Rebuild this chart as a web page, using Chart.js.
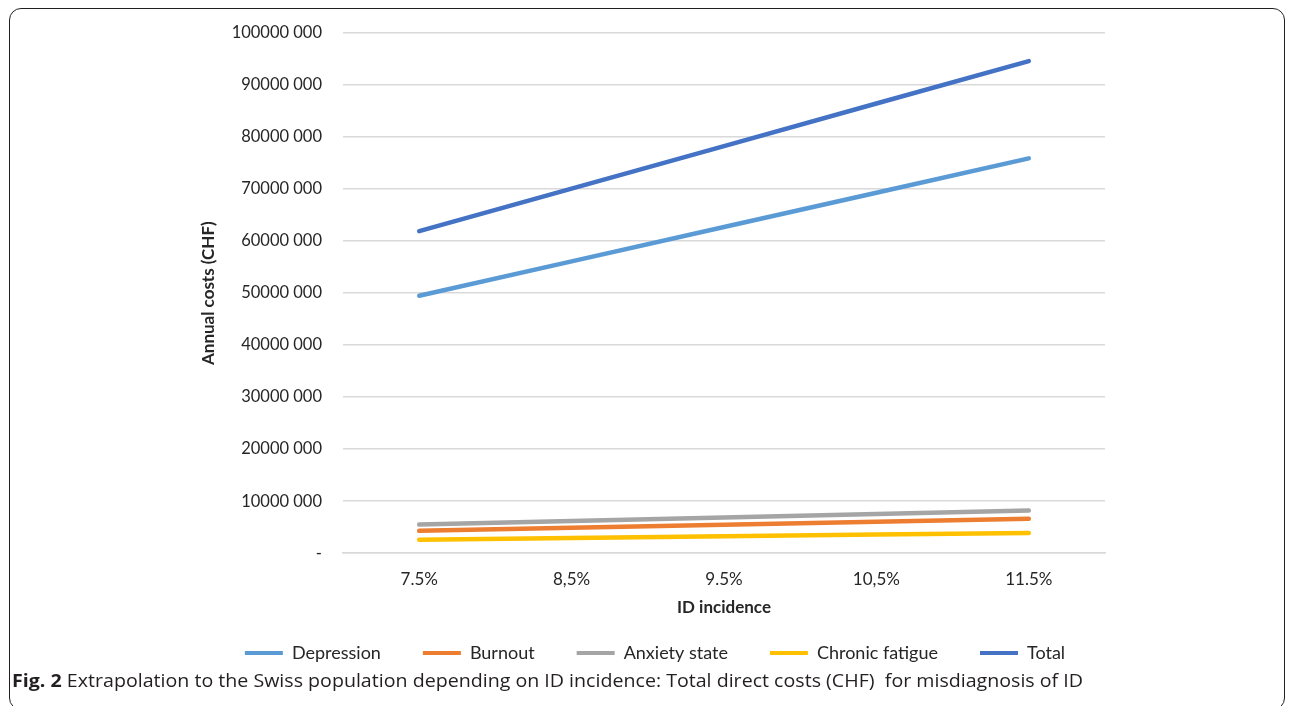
<!DOCTYPE html>
<html>
<head>
<meta charset="utf-8">
<script src="https://cdn.jsdelivr.net/npm/chart.js@4.4.1/dist/chart.umd.min.js"></script>
<style>
  html, body { margin: 0; padding: 0; background: #fff; overflow: hidden; }
  #wrap { position: relative; width: 1292px; height: 706px; }
  #frame {
    position: absolute; left: 9px; top: 8px; width: 1276px; height: 702px;
    border: 1.5px solid #231f20; border-radius: 12px; box-sizing: border-box;
  }
  #chart { position: absolute; left: 0; top: 0; }
  #caption {
    position: absolute; left: 12px; top: 668px; white-space: nowrap;
    font-family: "Open Sans", sans-serif; font-size: 18px; color: #231f20;
    transform-origin: 0 0;
  }
  #caption b { font-weight: 700; }
</style>
</head>
<body>
<div id="wrap">
  <div id="frame"></div>
  <canvas id="chart" width="1292" height="706"></canvas>
  <div id="caption"><b>Fig. 2</b> Extrapolation to the Swiss population depending on ID incidence: Total direct costs (CHF)&nbsp; for misdiagnosis of ID</div>
</div>
<script>
// ID incidence scenarios (x axis)
const categories = ['7.5%', '8,5%', '9.5%', '10,5%', '11.5%'];

// Annual direct costs in CHF per misdiagnosis
const depression     = [49500000, 56100000, 62700000, 69300000, 75900000];
const burnout        = [4300000, 4880000, 5450000, 6030000, 6600000];
const anxietyState   = [5500000, 6180000, 6850000, 7530000, 8200000];
const chronicFatigue = [2600000, 2930000, 3250000, 3580000, 3900000];
const total          = [61900000, 70090000, 78250000, 86440000, 94600000];

// Y axis tick labels, from 0 up to 100 million in steps of 10 million
const yTickLabels = ['-', '10000 000', '20000 000', '30000 000', '40000 000', '50000 000',
                     '60000 000', '70000 000', '80000 000', '90000 000', '100000 000'];

const seriesNames = ['Depression', 'Burnout', 'Anxiety state', 'Chronic fatigue', 'Total'];
const seriesColors = ['#5B9BD5', '#ED7D31', '#A5A5A5', '#FFC000', '#4472C4'];
const seriesData = [depression, burnout, anxietyState, chronicFatigue, total];

const FONT = 'Lato, "Open Sans", sans-serif';
const TEXT = '#262626';

const datasets = seriesNames.map((name, i) => ({
  label: name,
  data: seriesData[i],
  borderColor: seriesColors[i],
  backgroundColor: seriesColors[i],
  borderWidth: 4.5,
  borderCapStyle: 'round',
  borderJoinStyle: 'round',
  pointRadius: 0,
  tension: 0,
  order: seriesNames.length - i
}));

new Chart(document.getElementById('chart'), {
  type: 'line',
  data: { labels: categories, datasets },
  options: {
    responsive: false,
    animation: false,
    layout: { padding: { left: 18, right: 0, top: 33, bottom: 34 } },
    plugins: {
      tooltip: { enabled: false },
      legend: {
        position: 'bottom',
        labels: {
          font: { family: FONT, size: 18 },
          color: TEXT,
          boxWidth: 38,
          boxHeight: 4,
          padding: 42,
          generateLabels(chart) {
            return chart.data.datasets.map((ds, i) => ({
              text: ds.label,
              fillStyle: ds.borderColor,
              strokeStyle: ds.borderColor,
              lineWidth: 0,
              fontColor: TEXT,
              hidden: false,
              datasetIndex: i
            }));
          }
        }
      }
    },
    scales: {
      x: {
        grid: { display: false, drawTicks: false },
        border: { display: true, color: '#d9d9d9', width: 1.5 },
        offset: true,
        ticks: { font: { family: FONT, size: 17 }, color: TEXT, padding: 16 },
        title: {
          display: true, text: 'ID incidence', color: TEXT,
          font: { family: FONT, size: 17, weight: 'bold' },
          padding: { top: -8, bottom: -16 }
        }
      },
      y: {
        position: 'left',
        min: 0, max: 100000000,
        grid: { color: '#d9d9d9', lineWidth: 1.5, drawTicks: false },
        border: { display: false },
        ticks: {
          stepSize: 10000000,
          font: { family: FONT, size: 16.5 }, color: TEXT, padding: 21,
          callback: (v) => yTickLabels[Math.round(v / 10000000)]
        },
        title: {
          display: true, text: 'Annual costs (CHF)', color: TEXT,
          font: { family: FONT, size: 17, weight: 'bold' },
          padding: { top: 4, bottom: 4 }
        },
        afterFit(scale) { scale.width = 149; }
      },
      leftSpace: {
        type: 'linear', position: 'left', weight: 5,
        grid: { display: false, drawTicks: false },
        border: { display: false },
        ticks: { display: false },
        afterFit(scale) { scale.width = 176; }
      },
      rightSpace: {
        type: 'linear', position: 'right',
        grid: { display: false, drawTicks: false },
        border: { display: false },
        ticks: { display: false },
        afterFit(scale) { scale.width = 187; }
      }
    }
  }
});

// Stretch the caption line to its column width
const cap = document.getElementById('caption');
const w = cap.getBoundingClientRect().width;
cap.style.transform = 'scaleX(' + (1071 / w) + ')';
</script>
</body>
</html>
